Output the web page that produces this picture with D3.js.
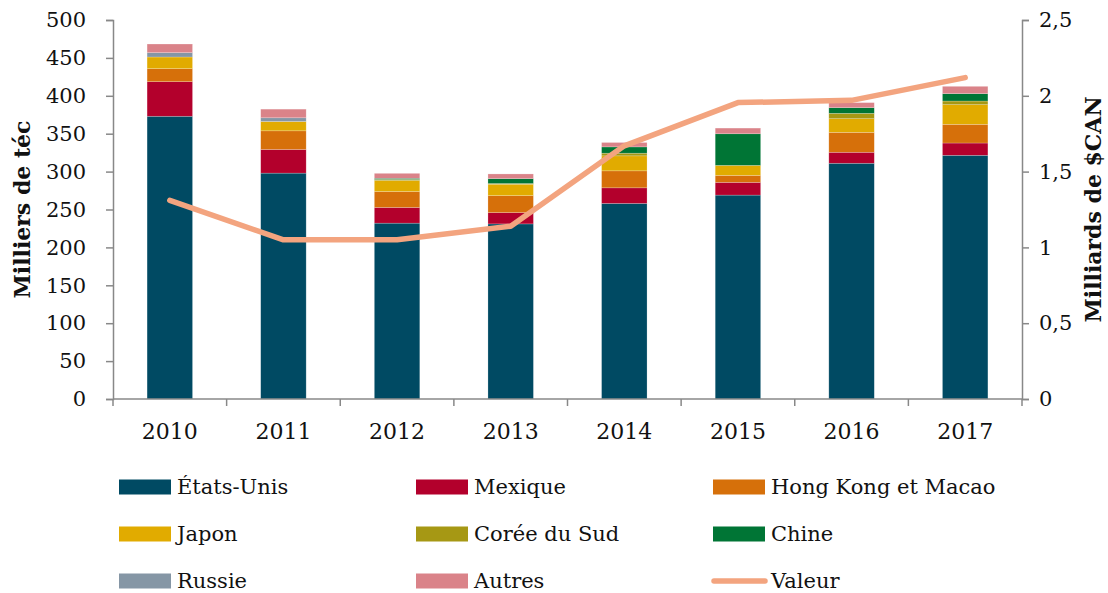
<!DOCTYPE html>
<html lang="fr">
<head>
    <meta charset="UTF-8">
    <title>Exportations par destination</title>
    <script src="https://d3js.org/d3.v7.min.js"></script>
    <style>
        body {
            margin: 0;
            background: #fff;
            font-family: "DejaVu Serif", serif;
        }

        text {
            font-family: "DejaVu Serif", serif;
        }

        .tick-label {
            font-size: 21px;
            fill: #111;
        }

        .axis-title {
            font-size: 22px;
            font-weight: bold;
            fill: #111;
        }

        .legend-label {
            font-size: 21px;
            fill: #111;
        }
    </style>
</head>
<body>
    <svg id="chart"></svg>

    <script>
        // Data
        const years = ["2010", "2011", "2012", "2013", "2014", "2015", "2016", "2017"];
        const etatsUnis = [373, 298, 232, 231, 258, 269, 311, 321.5];
        const mexique = [45.6, 31.2, 20.7, 14.9, 20.6, 16.8, 14.5, 16.2];
        const hongKong = [17.2, 24.6, 21, 22.4, 22.4, 9.2, 26.3, 24.7];
        const japon = [15.4, 12.3, 14.5, 15, 19.8, 13.2, 18, 25.9];
        const coree = [0, 0, 1.5, 1, 3.5, 0, 7.1, 4.8];
        const chine = [0, 0, 1.5, 6.4, 8.3, 41.7, 7.4, 9.7];
        const russie = [5.7, 4.9, 0, 0, 0, 0, 0, 0];
        const autres = [11.4, 11.4, 6.5, 6.2, 5.8, 7.5, 6.7, 9.7];
        const valeur = [1.31, 1.05, 1.05, 1.14, 1.67, 1.955, 1.97, 2.12];

        const leftTicks = [0, 50, 100, 150, 200, 250, 300, 350, 400, 450, 500];
        const rightTicks = [0, 0.5, 1, 1.5, 2, 2.5];

        const seriesNames = ["États-Unis", "Mexique", "Hong Kong et Macao", "Japon", "Corée du Sud", "Chine", "Russie", "Autres"];
        const seriesValues = [etatsUnis, mexique, hongKong, japon, coree, chine, russie, autres];
        const seriesColors = ["#004a63", "#b3002c", "#d6700a", "#e1ab00", "#a69814", "#007535", "#8596a5", "#da8389"];
        const lineColor = "#f3a47f";

        const width = 1108;
        const height = 593;
        const plot = { left: 113, right: 1022, top: 20, bottom: 399 };
        const axisColor = "#888";

        const svg = d3.select("#chart")
            .attr("width", width)
            .attr("height", height);

        // build rows for the stack
        const rows = years.map((y, i) => {
            const r = { year: y };
            seriesNames.forEach((n, k) => r[n] = seriesValues[k][i]);
            return r;
        });
        const stacked = d3.stack().keys(seriesNames)(rows);

        const x = d3.scaleBand()
            .domain(years)
            .range([plot.left, plot.right])
            .paddingInner(0.6)
            .paddingOuter(0.3);

        const y = d3.scaleLinear()
            .domain([0, 500])
            .range([plot.bottom, plot.top]);

        const y2 = d3.scaleLinear()
            .domain([0, 2.5])
            .range([plot.bottom, plot.top]);

        // bars
        svg.append("g")
            .selectAll("g")
            .data(stacked)
            .join("g")
            .attr("fill", (d, i) => seriesColors[i])
            .selectAll("rect")
            .data(d => d)
            .join("rect")
            .attr("x", d => x(d.data.year))
            .attr("width", x.bandwidth())
            .attr("y", d => y(d[1]))
            .attr("height", d => y(d[0]) - y(d[1]))
            .attr("stroke", "#fff")
            .attr("stroke-opacity", 0.35)
            .attr("stroke-width", 0.6);

        // left axis
        const leftAxis = svg.append("g")
            .attr("transform", `translate(${plot.left},0)`)
            .call(d3.axisLeft(y).tickValues(leftTicks).tickSize(7).tickPadding(20));

        // right axis
        const rightAxis = svg.append("g")
            .attr("transform", `translate(${plot.right},0)`)
            .call(d3.axisRight(y2).tickValues(rightTicks).tickSize(7).tickPadding(10)
                .tickFormat(d => String(d).replace(".", ",")));

        // bottom axis: labels centred on bars, ticks between categories
        const bottomAxis = svg.append("g")
            .attr("transform", `translate(0,${plot.bottom})`)
            .call(d3.axisBottom(x).tickSize(0).tickPadding(24));
        bottomAxis.select(".domain").attr("d", `M${plot.left},0H${plot.right}`);
        bottomAxis.selectAll(".sep")
            .data(d3.range(years.length + 1))
            .join("line")
            .attr("class", "sep")
            .attr("x1", i => plot.left + i * x.step())
            .attr("x2", i => plot.left + i * x.step())
            .attr("y1", 0)
            .attr("y2", 7)
            .attr("stroke", axisColor);

        [leftAxis, rightAxis, bottomAxis].forEach(g => {
            g.attr("font-family", null).attr("font-size", null);
            g.selectAll("text").attr("class", "tick-label");
        });
        bottomAxis.selectAll("text").style("font-size", "22px");

        svg.selectAll(".domain, .tick line, .sep").attr("stroke", axisColor).attr("stroke-width", 1.5);

        // value line
        const line = d3.line()
            .x((d, i) => x(years[i]) + x.bandwidth() / 2)
            .y(d => y2(d));

        svg.append("path")
            .datum(valeur)
            .attr("d", line)
            .attr("fill", "none")
            .attr("stroke", lineColor)
            .attr("stroke-width", 5.5)
            .attr("stroke-linejoin", "round")
            .attr("stroke-linecap", "round");

        // axis titles
        svg.append("text")
            .attr("class", "axis-title")
            .attr("transform", `translate(30,${(plot.top + plot.bottom) / 2}) rotate(-90)`)
            .attr("text-anchor", "middle")
            .text("Milliers de téc");

        svg.append("text")
            .attr("class", "axis-title")
            .attr("transform", `translate(1101,${(plot.top + plot.bottom) / 2}) rotate(-90)`)
            .attr("text-anchor", "middle")
            .text("Milliards de $CAN");

        // legend
        const legendItems = seriesNames.map((n, i) => ({ name: n, color: seriesColors[i], type: "rect" }))
            .concat([{ name: "Valeur", color: lineColor, type: "line" }]);
        const colX = [119, 416, 713];
        const rowY = [487, 534, 581];

        const legend = svg.append("g")
            .selectAll("g")
            .data(legendItems)
            .join("g")
            .attr("transform", (d, i) => `translate(${colX[i % 3]},${rowY[Math.floor(i / 3)]})`);

        legend.filter(d => d.type === "rect")
            .append("rect")
            .attr("x", 0)
            .attr("y", -7.5)
            .attr("width", 52)
            .attr("height", 15)
            .attr("fill", d => d.color);

        legend.filter(d => d.type === "line")
            .append("line")
            .attr("x1", 1)
            .attr("x2", 52)
            .attr("y1", 0)
            .attr("y2", 0)
            .attr("stroke", d => d.color)
            .attr("stroke-width", 5.5)
            .attr("stroke-linecap", "round");

        legend.append("text")
            .attr("class", "legend-label")
            .attr("x", 58)
            .attr("y", 0)
            .attr("dy", "0.35em")
            .text(d => d.name);
    </script>
</body>
</html>
